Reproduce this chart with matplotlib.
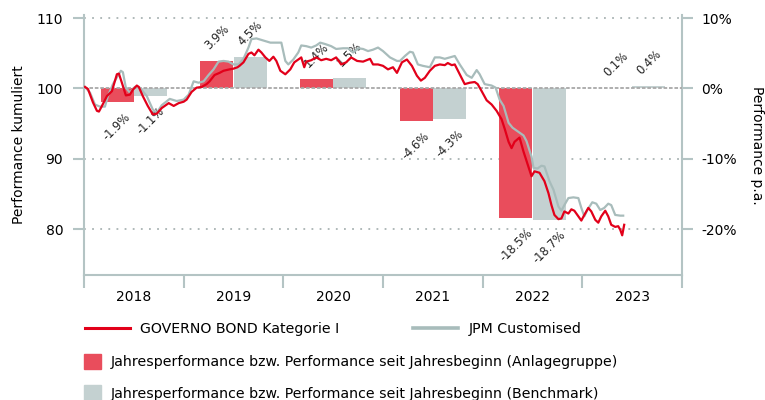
import matplotlib
matplotlib.use("Agg")
import matplotlib.pyplot as plt
from matplotlib.lines import Line2D
from matplotlib.patches import Patch

plt.rcParams['font.family'] = ['DejaVu Sans']

# cumulative performance, time in decimal years
fund_t = [2018.01, 2018.04, 2018.09, 2018.13, 2018.15, 2018.18, 2018.23, 2018.28, 2018.33, 2018.35,
          2018.38, 2018.42, 2018.46, 2018.49, 2018.53, 2018.55, 2018.59, 2018.64, 2018.69, 2018.73,
          2018.78, 2018.85, 2018.90, 2018.95, 2019.00, 2019.03, 2019.08, 2019.13, 2019.18, 2019.23,
          2019.26, 2019.31, 2019.36, 2019.40, 2019.46, 2019.50, 2019.54, 2019.56, 2019.60, 2019.65,
          2019.68, 2019.71, 2019.75, 2019.78, 2019.82, 2019.86, 2019.90, 2019.93, 2019.97, 2020.02,
          2020.07, 2020.11, 2020.15, 2020.18, 2020.21, 2020.23, 2020.28, 2020.33, 2020.38, 2020.43,
          2020.48, 2020.53, 2020.58, 2020.63, 2020.68, 2020.74, 2020.80, 2020.87, 2020.90, 2020.95,
          2021.00, 2021.05, 2021.10, 2021.14, 2021.19, 2021.24, 2021.29, 2021.34, 2021.38, 2021.42,
          2021.47, 2021.52, 2021.57, 2021.62, 2021.65, 2021.69, 2021.72, 2021.77, 2021.82, 2021.87,
          2021.92, 2021.95, 2021.99, 2022.04, 2022.09, 2022.14, 2022.19, 2022.22, 2022.26, 2022.29,
          2022.32, 2022.37, 2022.41, 2022.44, 2022.49, 2022.52, 2022.57, 2022.62, 2022.66, 2022.69,
          2022.72, 2022.76, 2022.79, 2022.82, 2022.86, 2022.89, 2022.92, 2022.96, 2022.99, 2023.02,
          2023.06, 2023.09, 2023.13, 2023.16, 2023.19, 2023.23, 2023.26, 2023.29, 2023.33, 2023.36,
          2023.38, 2023.40, 2023.42]
fund_v = [100.2, 99.9, 98.0, 96.8, 96.7, 97.5, 98.9, 99.6, 102.0, 102.1,
          100.8, 99.0, 99.1, 99.8, 100.4, 100.2, 98.9, 97.5, 96.3, 96.4,
          97.2, 97.9, 97.5, 97.9, 98.1, 98.4, 99.5, 100.1, 100.2, 100.6,
          101.0, 101.9, 102.2, 102.5, 102.7, 102.8, 103.0, 103.2, 103.7, 104.9,
          105.1, 104.7, 105.5, 105.1, 104.4, 103.9, 104.5, 103.9, 102.5, 102.0,
          102.7, 103.7, 104.1, 104.4, 103.0, 103.8, 104.0, 104.4, 104.0, 104.2,
          104.0, 104.4, 103.4, 103.7, 104.4, 103.9, 103.8, 104.2, 103.4, 103.4,
          103.2, 102.7, 103.0, 102.2, 103.7, 104.1, 103.2, 101.8, 101.1, 101.5,
          102.5, 103.2, 103.4, 103.3, 103.6, 103.3, 103.4, 102.0, 100.6, 100.8,
          100.9, 100.6, 99.6, 98.3, 97.7, 96.8, 95.6, 94.3, 92.4, 91.5,
          92.4, 93.0, 91.0, 89.7, 87.5, 88.2, 88.0, 86.8, 85.1, 83.4,
          82.0, 81.4, 81.5, 82.5, 82.2, 82.8, 82.6, 81.8, 81.2, 82.0,
          83.0, 82.5, 81.3, 80.9, 81.8, 82.6, 81.8, 80.6, 80.3, 80.4,
          79.9, 79.1, 80.6]

bench_t = [2018.01, 2018.06, 2018.11, 2018.16, 2018.21, 2018.24, 2018.29, 2018.34, 2018.37, 2018.39,
           2018.42, 2018.46, 2018.51, 2018.56, 2018.63, 2018.69, 2018.73, 2018.78, 2018.86, 2018.93,
           2019.00, 2019.05, 2019.10, 2019.15, 2019.20, 2019.25, 2019.30, 2019.35, 2019.40, 2019.45,
           2019.50, 2019.55, 2019.60, 2019.65, 2019.68, 2019.73, 2019.80, 2019.87, 2019.93, 2019.98,
           2020.02, 2020.05, 2020.10, 2020.15, 2020.18, 2020.23, 2020.28, 2020.33, 2020.37, 2020.42,
           2020.48, 2020.53, 2020.60, 2020.65, 2020.70, 2020.75, 2020.80, 2020.85, 2020.90, 2020.95,
           2021.00, 2021.07, 2021.14, 2021.17, 2021.22, 2021.27, 2021.30, 2021.35, 2021.40, 2021.47,
           2021.52, 2021.57, 2021.62, 2021.67, 2021.72, 2021.77, 2021.84, 2021.89, 2021.94, 2021.97,
           2022.02, 2022.09, 2022.13, 2022.17, 2022.21, 2022.26, 2022.30, 2022.36, 2022.41, 2022.44,
           2022.49, 2022.51, 2022.55, 2022.59, 2022.62, 2022.67, 2022.71, 2022.76, 2022.79, 2022.82,
           2022.86, 2022.91, 2022.96, 2022.99, 2023.02, 2023.05, 2023.10, 2023.14, 2023.18, 2023.22,
           2023.26, 2023.29, 2023.33, 2023.38, 2023.41]
bench_v = [100.2, 99.4, 97.7, 97.4, 97.4, 98.9, 100.6, 101.8, 102.5, 102.3,
           100.1, 99.4, 100.2, 100.1, 98.9, 97.0, 96.5, 97.6, 98.5, 98.2,
           98.4, 99.1, 101.0, 100.8, 101.0, 101.9, 102.7, 103.8, 103.9, 103.8,
           103.4, 103.4, 104.2, 105.8, 107.0, 107.1, 106.8, 106.5, 106.5, 106.5,
           103.9, 103.4, 104.1, 105.1, 106.1, 106.0, 105.8, 106.1, 106.5, 106.3,
           106.0, 105.6, 105.7, 105.7, 105.1, 105.7, 105.6, 105.3, 105.5, 105.8,
           105.3, 104.4, 103.9, 103.9, 104.6, 105.2, 105.1, 103.4, 103.2, 103.0,
           104.4, 104.4, 104.2, 104.4, 104.6, 103.4, 101.9, 101.5, 102.6, 102.0,
           100.6, 100.4, 100.1, 98.4, 97.5, 95.1, 94.4, 93.8, 93.3, 92.5,
           90.3, 88.7, 88.6, 89.0, 88.9, 86.8, 85.6, 83.2, 82.6, 83.4,
           84.4, 84.5, 84.4, 83.0, 81.8, 82.7, 83.8, 83.6, 82.7, 83.0,
           83.6, 83.4, 82.0, 81.9, 81.9]

# yearly performance in percent
years = [2018, 2019, 2020, 2021, 2022, 2023]
fund_perf = [-1.9, 3.9, 1.4, -4.6, -18.5, 0.1]
bench_perf = [-1.1, 4.5, 1.5, -4.3, -18.7, 0.4]

RED = '#e2001a'
RED_BAR = '#e94d5c'
GREY = '#a8bcbb'
GREY_BAR = '#c4d1d1'
SPINE = '#b4c4c4'
GRID = '#a9b3b3'

fig = plt.figure(figsize=(7.65, 4.0), dpi=100)
ax = fig.add_axes([84 / 765, 1 - 275 / 400, 598 / 765, 260 / 400])
ax2 = ax.twinx()

ax.set_xlim(2018, 2024)
ax.set_ylim(73.46, 110.43)
ax2.set_ylim(-26.54, 10.43)

# grid and bars on the right axis (behind the lines)
for g in [10, -10, -20]:
    ax2.axhline(g, color=GRID, lw=1.3, ls=(0, (1, 3.5)), zorder=0)
ax2.axhline(0, color='#a8a8a8', lw=1.3, ls=(0, (2, 1)), zorder=3)

w = 1 / 3
xr = [y + 0.5 - w / 2 for y in years]
xb = [y + 0.5 + w / 2 for y in years]
ax2.bar(xr, fund_perf, width=w, color=RED_BAR, zorder=1)
ax2.bar(xb, bench_perf, width=w, color=GREY_BAR, zorder=1)

for xs, vals in [(xr, fund_perf), (xb, bench_perf)]:
    for x, v in zip(xs, vals):
        off = 6 if v >= 0 else -6
        ax2.annotate(f'{v:.1f}%', (x, v), xytext=(0, off), textcoords='offset points',
                     rotation=45, ha='center', va='bottom' if v >= 0 else 'top',
                     fontsize=8.3, color='#222222')

# lines on top
ax.set_zorder(ax2.get_zorder() + 1)
ax.patch.set_visible(False)
ax.plot(bench_t, bench_v, color=GREY, lw=1.6, zorder=3)
ax.plot(fund_t, fund_v, color=RED, lw=1.6, zorder=4)

# axes styling
for a in (ax, ax2):
    a.spines['top'].set_visible(False)
    for s in a.spines.values():
        s.set_color(SPINE)
        s.set_linewidth(1.5)
ax.spines['right'].set_visible(False)
ax2.spines['left'].set_visible(False)
ax2.spines['bottom'].set_visible(False)

ax.set_yticks([80, 90, 100, 110])
ax2.set_yticks([-20, -10, 0, 10])
ax2.set_yticklabels(['-20%', '-10%', '0%', '10%'])
ax.tick_params(axis='y', length=8, width=1.5, color=SPINE, pad=7, labelsize=10)
ax2.tick_params(axis='y', length=8, width=1.5, color=SPINE, pad=6, labelsize=10)

ax.set_xticks(range(2018, 2025))
ax.set_xticklabels([])
ax.set_xticks([y + 0.5 for y in years], minor=True)
ax.set_xticklabels([str(y) for y in years], minor=True)
ax.tick_params(axis='x', which='major', length=9, width=1.5, color=SPINE)
ax.tick_params(axis='x', which='minor', length=0, pad=11, labelsize=10)

ax.set_ylabel('Performance kumuliert', fontsize=10)
ax.yaxis.set_label_coords(-0.097, 0.5)
ax2.set_ylabel('Performance p.a.', fontsize=10, rotation=270, va='center')
ax2.yaxis.set_label_coords(1.125, 0.5)

# legends
fs = 10.2
common = dict(loc='center left', frameon=False, borderpad=0, borderaxespad=0,
              prop={'size': fs}, bbox_transform=fig.transFigure)
l1 = fig.legend(handles=[Line2D([], [], color=RED, lw=2.2)], labels=['GOVERNO BOND Kategorie I'],
                bbox_to_anchor=(85 / 765, 1 - 329 / 400), handlelength=3.2, handletextpad=0.7, **common)
l2 = fig.legend(handles=[Line2D([], [], color=GREY, lw=2.6)], labels=['JPM Customised'],
                bbox_to_anchor=(413 / 765, 1 - 329 / 400), handlelength=3.2, handletextpad=0.7, **common)
l3 = fig.legend(handles=[Patch(color=RED_BAR)],
                labels=['Jahresperformance bzw. Performance seit Jahresbeginn (Anlagegruppe)'],
                bbox_to_anchor=(84 / 765, 1 - 361.5 / 400), handlelength=1.2, handleheight=1.2,
                handletextpad=0.68, **common)
l4 = fig.legend(handles=[Patch(color=GREY_BAR)],
                labels=['Jahresperformance bzw. Performance seit Jahresbeginn (Benchmark)'],
                bbox_to_anchor=(84 / 765, 1 - 393 / 400), handlelength=1.2, handleheight=1.2,
                handletextpad=0.68, **common)

fig.savefig('out.png', dpi=100)
